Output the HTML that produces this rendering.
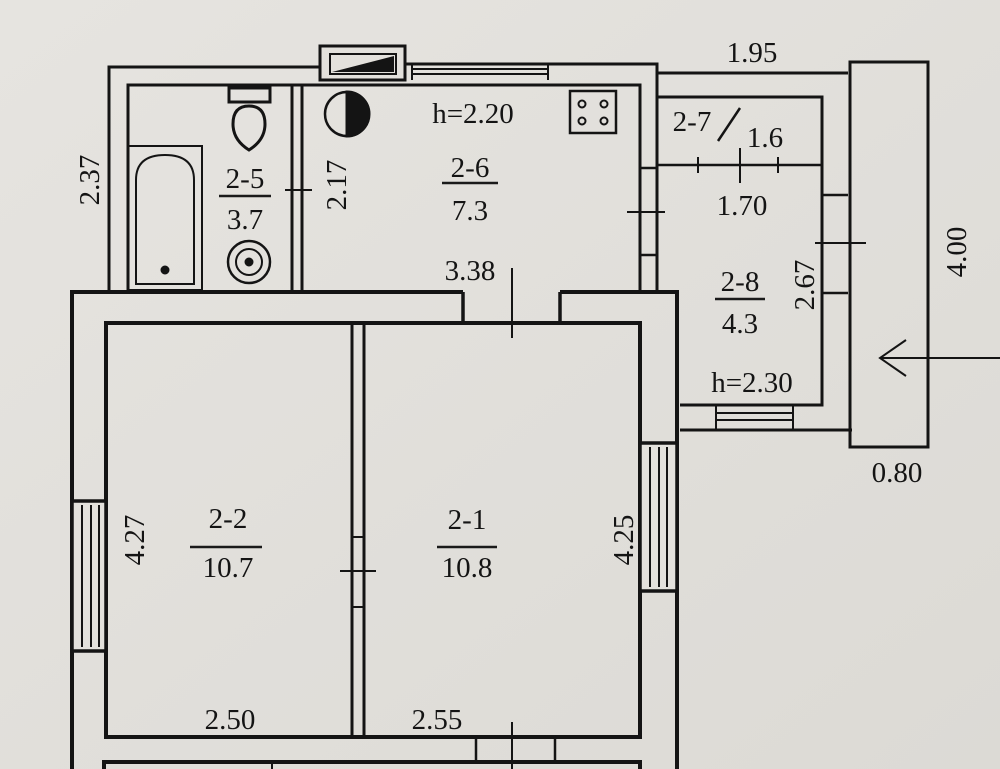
<!DOCTYPE html>
<html><head><meta charset="utf-8"><style>
html,body{margin:0;padding:0;background:#e3e1dc;}
svg{display:block}
text{font-family:"Liberation Serif",serif;font-size:29px;fill:#141414;text-anchor:middle}
</style></head><body>
<svg width="1000" height="769" viewBox="0 0 1000 769" xmlns="http://www.w3.org/2000/svg">
<defs><linearGradient id="bg" x1="0" y1="0" x2="1" y2="1"><stop offset="0" stop-color="#e6e4e0"/><stop offset="1" stop-color="#dcdad5"/></linearGradient></defs>
<rect width="1000" height="769" fill="url(#bg)"/>
<g stroke="#141414" fill="none" stroke-width="3">
<path d="M109 290 V67 H320 M405 64 H657 V290"/>
<path d="M128 290 V85 H640 V290"/>
<line x1="292" y1="85" x2="292" y2="290"/><line x1="302" y1="85" x2="302" y2="290"/>
<line x1="285" y1="190" x2="312" y2="190" stroke-width="2"/>
<rect x="320" y="46" width="85" height="34" fill="#e3e1dc"/>
<rect x="330" y="54" width="66" height="20" stroke-width="2"/>
<path d="M332 72 L394 56 V72 Z" fill="#141414" stroke="none"/>
<path d="M412 64 V80 M548 64 V80 M412 69 H548 M412 74 H548" stroke-width="2"/>
<rect x="128" y="146" width="74" height="144" stroke-width="2"/>
<path d="M136 284 V180 Q136 155 165 155 Q194 155 194 180 V284 Z" stroke-width="2"/>
<circle cx="165" cy="270" r="3" fill="#141414"/>
<rect x="229" y="88" width="41" height="14" stroke-width="3"/>
<path d="M249 150 Q233 140 233 124 Q233 106 249 106 Q265 106 265 124 Q265 140 249 150 Z" stroke-width="3"/>
<circle cx="249" cy="262" r="21" stroke-width="2.5"/><circle cx="249" cy="262" r="13" stroke-width="2"/><circle cx="249" cy="262" r="3" fill="#141414"/>
<circle cx="347" cy="114" r="22" stroke-width="2.5"/>
<path d="M347 92 A22 22 0 0 1 347 136 Z" fill="#141414"/>
<rect x="570" y="91" width="46" height="42" stroke-width="2.5"/>
<g stroke-width="2"><circle cx="582" cy="104" r="3.5"/><circle cx="604" cy="104" r="3.5"/><circle cx="582" cy="121" r="3.5"/><circle cx="604" cy="121" r="3.5"/></g>
<path d="M657 73 H848"/>
<path d="M657 97 H822 V405 H680"/>
<path d="M680 430 H852"/>
<line x1="657" y1="165" x2="822" y2="165" stroke-width="2.5"/>
<path d="M698 157 V173 M778 157 V173 M740 148 V183" stroke-width="2"/>
<path d="M718 141 L740 108" stroke-width="2.5"/>
<path d="M640 168 H657 M640 255 H657" stroke-width="2.5"/>
<line x1="627" y1="212" x2="665" y2="212" stroke-width="2"/>
<path d="M822 195 H848 M822 293 H848" stroke-width="2.5"/>
<line x1="815" y1="243" x2="866" y2="243" stroke-width="2"/>
<path d="M716 405 V430 M793 405 V430 M716 413 H793 M716 420 H793" stroke-width="2"/>
<rect x="850" y="62" width="78" height="385"/>
<line x1="1000" y1="358" x2="880" y2="358" stroke-width="2"/>
<path d="M906 340 L880 358 L906 376" stroke-width="2"/>
<path d="M72 769 V292 H463 M560 292 H677 V769" stroke-width="4"/>
<path d="M463 292 V323 M560 292 V323" stroke-width="3.5"/>
<path d="M106 737 V323 H640 V737 Z" stroke-width="4"/>
<line x1="512" y1="268" x2="512" y2="338" stroke-width="2"/>
<line x1="352" y1="323" x2="352" y2="737" stroke-width="3"/><line x1="364" y1="323" x2="364" y2="737" stroke-width="3"/>
<path d="M352 537 H364 M352 607 H364" stroke-width="2"/>
<line x1="340" y1="571" x2="376" y2="571" stroke-width="2"/>
<rect x="72" y="501" width="34" height="150" fill="#e3e1dc" stroke-width="3.5"/>
<path d="M82 505 V647 M91 505 V647 M99 505 V647" stroke-width="2"/>
<rect x="640" y="443" width="37" height="148" fill="#e3e1dc" stroke-width="3.5"/>
<path d="M650 447 V587 M659 447 V587 M667 447 V587" stroke-width="2"/>
<path d="M104 769 V762 H640 V769" stroke-width="4"/>
<path d="M476 737 V762 M555 737 V762" stroke-width="2.5"/>
<line x1="512" y1="722" x2="512" y2="769" stroke-width="2"/>
<path d="M272 762 V769" stroke-width="2"/>
</g>
<g stroke="#1a1a1a" stroke-width="2.5">
<line x1="219" y1="196" x2="271" y2="196"/>
<line x1="442" y1="183" x2="498" y2="183"/>
<line x1="715" y1="299" x2="765" y2="299"/>
<line x1="190" y1="547" x2="262" y2="547"/>
<line x1="437" y1="547" x2="497" y2="547"/>
</g>
<text x="752" y="62">1.95</text>
<text x="473" y="123">h=2.20</text>
<text x="470" y="177">2-6</text>
<text x="470" y="220">7.3</text>
<text x="245" y="188">2-5</text>
<text x="245" y="229">3.7</text>
<text transform="translate(99,180) rotate(-90)">2.37</text>
<text transform="translate(346,185) rotate(-90)">2.17</text>
<text x="470" y="280">3.38</text>
<text x="692" y="131">2-7</text>
<text x="765" y="147">1.6</text>
<text x="742" y="215">1.70</text>
<text x="740" y="291">2-8</text>
<text x="740" y="333">4.3</text>
<text transform="translate(814,285) rotate(-90)">2.67</text>
<text x="752" y="392">h=2.30</text>
<text transform="translate(966,252) rotate(-90)">4.00</text>
<text x="897" y="482">0.80</text>
<text transform="translate(144,540) rotate(-90)">4.27</text>
<text x="228" y="528">2-2</text>
<text x="228" y="577">10.7</text>
<text x="467" y="529">2-1</text>
<text x="467" y="577">10.8</text>
<text transform="translate(633,540) rotate(-90)">4.25</text>
<text x="230" y="729">2.50</text>
<text x="437" y="729">2.55</text>
</svg>
</body></html>
